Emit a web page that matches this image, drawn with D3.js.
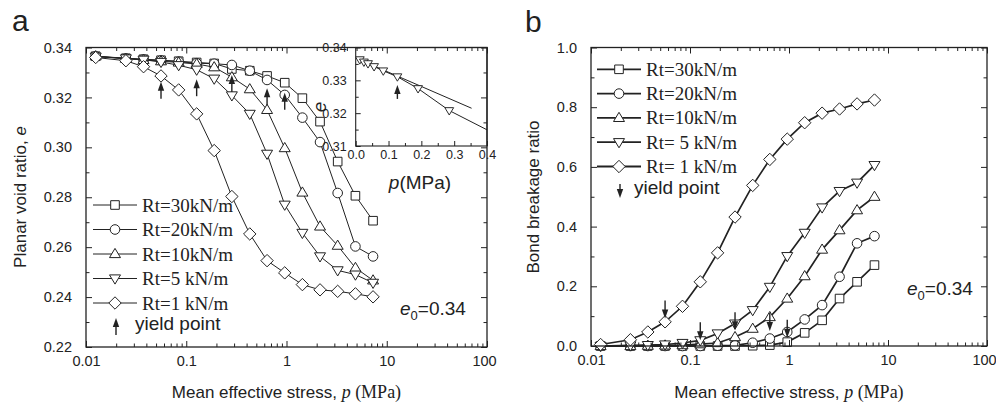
<!DOCTYPE html>
<html>
<head>
<meta charset="utf-8">
<script src="https://cdn.jsdelivr.net/npm/d3@7"></script>
<style>
    body { margin: 0; background: #fff; }
    svg { display: block; }
</style>
</head>
<body>
<div id="chart"></div>
<script>
// mean effective stress, p (MPa), shared by every series
const pressure = [0.0125, 0.025, 0.0375, 0.056, 0.084, 0.127, 0.19, 0.285, 0.43, 0.64, 0.96, 1.44, 2.16, 3.24, 4.87, 7.3];

// panel a: planar void ratio
const e_rt30 = [0.3365, 0.3357, 0.3353, 0.3349, 0.3345, 0.334, 0.3336, 0.3314, 0.3307, 0.3286, 0.3259, 0.3197, 0.3103, 0.2943, 0.2806, 0.2706];
const e_rt20 = [0.3365, 0.3356, 0.3352, 0.3348, 0.3343, 0.3337, 0.3335, 0.333, 0.3307, 0.327, 0.321, 0.3119, 0.3021, 0.2817, 0.2603, 0.2563];
const e_rt10 = [0.3365, 0.3355, 0.335, 0.3345, 0.334, 0.3334, 0.3321, 0.3281, 0.3233, 0.315, 0.2997, 0.2819, 0.2683, 0.2606, 0.2517, 0.2467];
const e_rt5 = [0.3363, 0.3356, 0.3351, 0.3342, 0.3329, 0.3311, 0.3275, 0.3208, 0.3134, 0.2974, 0.277, 0.2657, 0.2563, 0.2507, 0.249, 0.2457];
const e_rt1 = [0.336, 0.3347, 0.3323, 0.3286, 0.323, 0.3134, 0.2987, 0.2803, 0.2653, 0.2546, 0.2497, 0.245, 0.2429, 0.2423, 0.2413, 0.2401];

// panel b: bond breakage ratio
const b_rt30 = [0, 0, 0, 0, 0, 0, 0, 0, 0.001, 0.003, 0.013, 0.044, 0.086, 0.159, 0.215, 0.271];
const b_rt20 = [0, 0, 0, 0, 0, 0, 0.001, 0.002, 0.011, 0.025, 0.047, 0.089, 0.137, 0.232, 0.344, 0.368];
const b_rt10 = [0, 0, 0.001, 0.002, 0.003, 0.006, 0.01, 0.03, 0.058, 0.097, 0.159, 0.234, 0.323, 0.388, 0.455, 0.5];
const b_rt5 = [0, 0.002, 0.003, 0.005, 0.01, 0.019, 0.042, 0.075, 0.12, 0.198, 0.301, 0.379, 0.464, 0.519, 0.547, 0.606];
const b_rt1 = [0.005, 0.021, 0.047, 0.081, 0.133, 0.215, 0.312, 0.432, 0.538, 0.625, 0.693, 0.748, 0.78, 0.794, 0.811, 0.824];

const names_a = ["Rt=30kN/m", "Rt=20kN/m", "Rt=10kN/m", "Rt=5 kN/m", "Rt=1 kN/m"];
const names_b = ["Rt=30kN/m", "Rt=20kN/m", "Rt=10kN/m", "Rt= 5 kN/m", "Rt= 1 kN/m"];
const marker_types = ["square", "circle", "triangle", "triangle-down", "diamond"];

// yield points (arrow tips)
const yield_p = [0.056, 0.127, 0.285, 0.64, 0.96];
const yield_e = [0.3263, 0.3273, 0.329, 0.3237, 0.3219];
const yield_b = [0.092, 0.019, 0.053, 0.05, 0.028];

// inset: initial straight line and yield arrow
const tangent_p = [0, 0.353];
const tangent_e = [0.3368, 0.3215];
const inset_yield_p = 0.127;
const inset_yield_e = 0.3286;

// ticks
const x_ticks = [0.01, 0.1, 1, 10, 100];
const x_tick_labels = ["0.01", "0.1", "1", "10", "100"];
const ya_ticks = [0.22, 0.24, 0.26, 0.28, 0.30, 0.32, 0.34];
const ya_minor = [0.23, 0.25, 0.27, 0.29, 0.31, 0.33];
const yb_ticks = [0, 0.2, 0.4, 0.6, 0.8, 1.0];
const yb_minor = [0.1, 0.3, 0.5, 0.7, 0.9];
const xi_ticks = [0, 0.1, 0.2, 0.3, 0.4];
const xi_minor = [0.05, 0.15, 0.25, 0.35];
const yi_ticks = [0.31, 0.32, 0.33, 0.34];
const yi_minor = [0.315, 0.325, 0.335];

const SANS = "'Liberation Sans', Arial, sans-serif";
const SERIF = "'Liberation Serif', 'Times New Roman', serif";
const INK = "#222";

const svg = d3.select("#chart")
    .append("svg")
    .attr("width", 996)
    .attr("height", 403);

function marker_path(type) {
    if (type === "square") return "M-4.3,-4.3H4.3V4.3H-4.3Z";
    if (type === "circle") return "M4.8,0A4.8,4.8 0 1,1 -4.8,0A4.8,4.8 0 1,1 4.8,0Z";
    if (type === "triangle") return "M0,-5.6L5.5,3.6L-5.5,3.6Z";
    if (type === "triangle-down") return "M0,5.6L5.5,-3.6L-5.5,-3.6Z";
    return "M0,-6.2L6.2,0L0,6.2L-6.2,0Z";
}

function draw_arrow(g, x, y_tip, dir, len) {
    // dir = -1 : tip above the tail, dir = 1 : tip below the tail
    const y_tail = y_tip - dir * len;
    const head = 9;
    g.append("line")
        .attr("x1", x).attr("x2", x)
        .attr("y1", y_tail).attr("y2", y_tip - dir * head + dir)
        .attr("stroke", INK)
        .attr("stroke-width", 1.4);
    g.append("path")
        .attr("d", `M${x},${y_tip}L${x - 3.2},${y_tip - dir * head}L${x + 3.2},${y_tip - dir * head}Z`)
        .attr("fill", INK);
}

function style_axis(sel, font_size) {
    sel.select(".domain").remove();
    sel.selectAll(".tick line").attr("stroke", INK).attr("stroke-width", 1);
    sel.selectAll(".tick text")
        .style("font-family", SANS)
        .style("font-size", font_size + "px")
        .attr("fill", INK);
}

function draw_frame_axes(g, x, y, box, y_ticks, y_minor, y_fmt, x_minor) {
    const major = 6, minor = 3.5;
    g.append("g")
        .attr("transform", `translate(0,${box.bottom})`)
        .call(d3.axisBottom(x).tickValues(x_ticks).tickFormat((d, i) => x_tick_labels[i]).tickSize(-major).tickPadding(9))
        .call(s => style_axis(s, 14.5))
        .call(s => s.selectAll(".tick text").filter(d => d === 100).attr("dx", -3));
    g.append("g")
        .attr("transform", `translate(0,${box.bottom})`)
        .call(d3.axisBottom(x).tickValues(x_minor).tickFormat("").tickSize(-minor))
        .call(s => style_axis(s, 14.5));
    g.append("g")
        .attr("transform", `translate(0,${box.top})`)
        .call(d3.axisTop(x).tickValues(x_ticks).tickFormat("").tickSize(-major))
        .call(s => style_axis(s, 14.5));
    g.append("g")
        .attr("transform", `translate(0,${box.top})`)
        .call(d3.axisTop(x).tickValues(x_minor).tickFormat("").tickSize(-minor))
        .call(s => style_axis(s, 14.5));
    g.append("g")
        .attr("transform", `translate(${box.left},0)`)
        .call(d3.axisLeft(y).tickValues(y_ticks).tickFormat(d3.format(y_fmt)).tickSize(-major).tickPadding(14))
        .call(s => style_axis(s, 14.5));
    g.append("g")
        .attr("transform", `translate(${box.left},0)`)
        .call(d3.axisLeft(y).tickValues(y_minor).tickFormat("").tickSize(-minor))
        .call(s => style_axis(s, 14.5));
    g.append("g")
        .attr("transform", `translate(${box.right},0)`)
        .call(d3.axisRight(y).tickValues(y_ticks).tickFormat("").tickSize(-major))
        .call(s => style_axis(s, 14.5));
    g.append("g")
        .attr("transform", `translate(${box.right},0)`)
        .call(d3.axisRight(y).tickValues(y_minor).tickFormat("").tickSize(-minor))
        .call(s => style_axis(s, 14.5));
    g.append("rect")
        .attr("x", box.left).attr("y", box.top)
        .attr("width", box.right - box.left).attr("height", box.bottom - box.top)
        .attr("fill", "none")
        .attr("stroke", INK)
        .attr("stroke-width", 1.3);
}

function draw_series(g, x, y, values, type, line_width) {
    const pts = pressure.map((p, i) => [p, values[i]]);
    g.append("path")
        .datum(pts)
        .attr("fill", "none")
        .attr("stroke", INK)
        .attr("stroke-width", line_width)
        .attr("d", d3.line().x(d => x(d[0])).y(d => y(d[1])));
    g.selectAll(null)
        .data(pts)
        .enter().append("path")
        .attr("transform", d => `translate(${x(d[0])},${y(d[1])})`)
        .attr("d", marker_path(type))
        .attr("fill", "#fff")
        .attr("stroke", INK)
        .attr("stroke-width", 1);
}

function draw_legend(g, names, x0, y0, step, line_width) {
    names.forEach((name, i) => {
        const yy = y0 + i * step;
        g.append("line")
            .attr("x1", x0).attr("x2", x0 + 44)
            .attr("y1", yy).attr("y2", yy)
            .attr("stroke", INK)
            .attr("stroke-width", line_width);
        g.append("path")
            .attr("transform", `translate(${x0 + 22},${yy})`)
            .attr("d", marker_path(marker_types[i]))
            .attr("fill", "#fff")
            .attr("stroke", INK);
        g.append("text")
            .attr("x", x0 + 49)
            .attr("y", yy + 6.5)
            .style("font-family", SERIF)
            .style("font-size", "19px")
            .attr("fill", INK)
            .text(name);
    });
}

function label_e0(g, x, y) {
    const t = g.append("text")
        .attr("x", x).attr("y", y)
        .style("font-family", SANS)
        .style("font-size", "19px")
        .attr("fill", INK);
    t.append("tspan").style("font-style", "italic").text("e");
    t.append("tspan").attr("dy", 5).style("font-size", "13px").text("0");
    t.append("tspan").attr("dy", -5).text("=0.34");
}

function x_title(g, cx) {
    const t = g.append("text")
        .attr("x", cx).attr("y", 398)
        .attr("text-anchor", "middle")
        .style("font-family", SANS)
        .style("font-size", "17px")
        .attr("fill", INK);
    t.append("tspan").text("Mean effective stress, ");
    t.append("tspan").style("font-family", SERIF).style("font-style", "italic").style("font-size", "18px").text("p");
    t.append("tspan").style("font-family", SERIF).style("font-size", "18px").text(" (MPa)");
}

// ---------------- panel a ----------------
const box_a = { left: 86, right: 487, top: 47.5, bottom: 347 };
const xa = d3.scaleLog().domain([0.01, 100]).range([box_a.left, box_a.right]);
const ya = d3.scaleLinear().domain([0.22, 0.34]).range([box_a.bottom, box_a.top]);
const x_minor = xa.ticks().filter(d => !x_ticks.some(t => Math.abs(t - d) < 1e-9));

const ga = svg.append("g");
[e_rt30, e_rt20, e_rt10, e_rt5, e_rt1].forEach((vals, i) => draw_series(ga, xa, ya, vals, marker_types[i], 1));
yield_p.forEach((p, i) => draw_arrow(ga, xa(p), ya(yield_e[i]), -1, 17));

// inset
const box_i = { left: 355.7, right: 487, top: 47.5, bottom: 146 };
const xi = d3.scaleLinear().domain([0, 0.4]).range([box_i.left, box_i.right]);
const yi = d3.scaleLinear().domain([0.31, 0.34]).range([box_i.bottom, box_i.top]);
const gi = svg.append("g");
gi.append("rect")
    .attr("x", box_i.left).attr("y", box_i.top)
    .attr("width", box_i.right - box_i.left).attr("height", box_i.bottom - box_i.top)
    .attr("fill", "#fff");
svg.append("defs").append("clipPath").attr("id", "inset-clip")
    .append("rect")
    .attr("x", box_i.left).attr("y", box_i.top)
    .attr("width", box_i.right - box_i.left).attr("height", box_i.bottom - box_i.top);
const gic = gi.append("g").attr("clip-path", "url(#inset-clip)");
gic.append("path")
    .datum(tangent_p.map((p, i) => [p, tangent_e[i]]))
    .attr("fill", "none").attr("stroke", INK).attr("stroke-width", 1)
    .attr("d", d3.line().x(d => xi(d[0])).y(d => yi(d[1])));
const inset_pts = pressure.map((p, i) => [p, e_rt5[i]]).filter(d => d[0] < 0.5);
gic.append("path")
    .datum(inset_pts)
    .attr("fill", "none").attr("stroke", INK).attr("stroke-width", 1)
    .attr("d", d3.line().x(d => xi(d[0])).y(d => yi(d[1])));
gic.selectAll(null)
    .data(inset_pts.filter(d => d[0] <= 0.4))
    .enter().append("path")
    .attr("transform", d => `translate(${xi(d[0])},${yi(d[1])}) scale(0.8)`)
    .attr("d", marker_path("triangle-down"))
    .attr("fill", "#fff").attr("stroke", INK).attr("stroke-width", 1.2);
draw_arrow(gi, xi(inset_yield_p), yi(inset_yield_e), -1, 14);
gi.append("g")
    .attr("transform", `translate(0,${box_i.bottom})`)
    .call(d3.axisBottom(xi).tickValues(xi_ticks).tickFormat(d3.format(".1f")).tickSize(-5).tickPadding(4))
    .call(s => style_axis(s, 12.5));
gi.append("g")
    .attr("transform", `translate(0,${box_i.bottom})`)
    .call(d3.axisBottom(xi).tickValues(xi_minor).tickFormat("").tickSize(-3))
    .call(s => style_axis(s, 12.5));
gi.append("g")
    .attr("transform", `translate(${box_i.left},0)`)
    .call(d3.axisLeft(yi).tickValues(yi_ticks).tickFormat(d3.format(".2f")).tickSize(-5).tickPadding(9))
    .call(s => style_axis(s, 12.5));
gi.append("g")
    .attr("transform", `translate(${box_i.left},0)`)
    .call(d3.axisLeft(yi).tickValues(yi_minor).tickFormat("").tickSize(-3))
    .call(s => style_axis(s, 12.5));
gi.append("rect")
    .attr("x", box_i.left).attr("y", box_i.top)
    .attr("width", box_i.right - box_i.left).attr("height", box_i.bottom - box_i.top)
    .attr("fill", "none").attr("stroke", INK).attr("stroke-width", 1.1);
gi.append("text")
    .attr("transform", "translate(326,107) rotate(-90)")
    .attr("text-anchor", "middle")
    .style("font-family", SANS).style("font-size", "19px").style("font-style", "italic")
    .attr("fill", INK)
    .text("e");
const pl = gi.append("text")
    .attr("x", 420).attr("y", 188.5)
    .attr("text-anchor", "middle")
    .style("font-family", SANS).style("font-size", "19px")
    .attr("fill", INK);
pl.append("tspan").style("font-style", "italic").text("p");
pl.append("tspan").text("(MPa)");

// frame and ticks of panel a drawn above the inset
draw_frame_axes(svg.append("g"), xa, ya, box_a, ya_ticks, ya_minor, ".2f", x_minor);

draw_legend(svg, names_a, 93, 205, 24.5, 1);
draw_arrow(svg, 116, 318, -1, 17);
svg.append("text")
    .attr("x", 135).attr("y", 330)
    .style("font-family", SANS).style("font-size", "19px")
    .attr("fill", INK)
    .text("yield point");
label_e0(svg, 400, 315);

svg.append("text")
    .attr("transform", "translate(26,197) rotate(-90)")
    .attr("text-anchor", "middle")
    .style("font-family", SANS).style("font-size", "17px")
    .attr("fill", INK)
    .call(t => {
        t.append("tspan").text("Planar void ratio, ");
        t.append("tspan").style("font-style", "italic").text("e");
    });
x_title(svg, 286.5);
svg.append("text")
    .attr("x", 12).attr("y", 31)
    .style("font-family", SANS).style("font-size", "30px")
    .attr("fill", INK)
    .text("a");

// ---------------- panel b ----------------
const box_b = { left: 591, right: 987, top: 47.5, bottom: 346 };
const xb = d3.scaleLog().domain([0.01, 100]).range([box_b.left, box_b.right]);
const yb = d3.scaleLinear().domain([0, 1]).range([box_b.bottom, box_b.top]);

const gb = svg.append("g");
[b_rt30, b_rt20, b_rt10, b_rt5, b_rt1].forEach((vals, i) => draw_series(gb, xb, yb, vals, marker_types[i], 1.7));
yield_p.forEach((p, i) => draw_arrow(gb, xb(p), yb(yield_b[i]), 1, 18));
draw_frame_axes(gb, xb, yb, box_b, yb_ticks, yb_minor, ".1f", x_minor);

draw_legend(svg, names_b, 597, 69.3, 24.3, 1.8);
draw_arrow(svg, 620, 198, 1, 14);
svg.append("text")
    .attr("x", 634).attr("y", 194)
    .style("font-family", SANS).style("font-size", "19px")
    .attr("fill", INK)
    .text("yield point");
label_e0(svg, 907, 295);

svg.append("text")
    .attr("transform", "translate(539,197) rotate(-90)")
    .attr("text-anchor", "middle")
    .style("font-family", SANS).style("font-size", "17px")
    .attr("fill", INK)
    .text("Bond breakage ratio");
x_title(svg, 789);
svg.append("text")
    .attr("x", 525).attr("y", 32)
    .style("font-family", SANS).style("font-size", "30px")
    .attr("fill", INK)
    .text("b");
</script>
</body>
</html>
